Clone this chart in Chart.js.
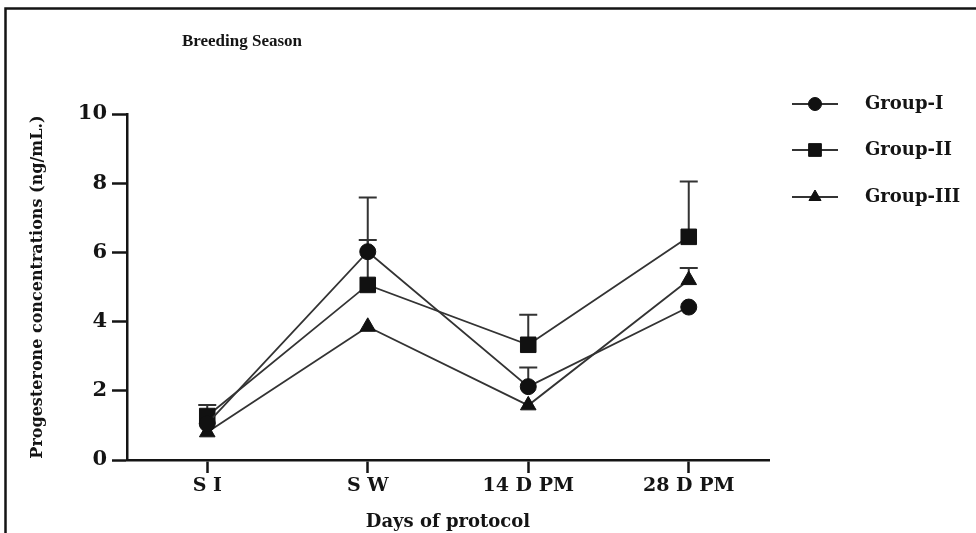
<!DOCTYPE html>
<html>
<head>
<meta charset="utf-8">
<script src="https://cdn.jsdelivr.net/npm/chart.js@4.4.1/dist/chart.umd.min.js"></script>
<style>
  html, body { margin: 0; padding: 0; background: #fff; }
  canvas { display: block; }
</style>
</head>
<body>
<canvas id="progChart" width="976" height="533"></canvas>
<script>
/* ── PROGESTERONE CHART ── */

// data
const days = ["S I", "S W", "14 D PM", "28 D PM"];
const groupI = [1.05, 6.02, 2.12, 4.42];
const groupII = [1.27, 5.06, 3.33, 6.45];
const groupIII = [0.8, 3.85, 1.58, 5.2];
// upper error bars (0 = none drawn)
const errI = [0, 1.57, 0.55, 0];
const errII = [0.32, 1.3, 0.87, 1.6];
const errIII = [0, 0, 0, 0.35];
const yTicks = [0, 2, 4, 6, 8, 10];

const INK = "#141414";
const LINE = "#333333";

// frame + title
const framePlugin = {
    id: "frame",
    beforeDraw(chart) {
        const ctx = chart.ctx;
        ctx.save();
        ctx.fillStyle = "#fff";
        ctx.fillRect(0, 0, chart.width, chart.height);
        ctx.strokeStyle = INK;
        ctx.lineWidth = 2.5;
        ctx.beginPath();
        ctx.moveTo(5.5, chart.height);
        ctx.lineTo(5.5, 8.5);
        ctx.lineTo(chart.width, 8.5);
        ctx.stroke();
        ctx.fillStyle = INK;
        ctx.font = "bold 17px 'Liberation Serif'";
        ctx.textAlign = "center";
        ctx.textBaseline = "middle";
        ctx.fillText("Breeding Season", 242, 42);
        ctx.restore();
    },
};

// upward error bars
const errorPlugin = {
    id: "errorBars",
    beforeDatasetsDraw(chart) {
        const ctx = chart.ctx;
        const x = chart.scales.x;
        const y = chart.scales.y;
        const sets = [[groupI, errI], [groupII, errII], [groupIII, errIII]];
        ctx.save();
        ctx.strokeStyle = LINE;
        ctx.lineWidth = 2;
        sets.forEach(([vals, errs]) => {
            vals.forEach((v, i) => {
                if (!errs[i]) return;
                const px = x.getPixelForValue(i);
                const y0 = y.getPixelForValue(v);
                const y1 = y.getPixelForValue(v + errs[i]);
                ctx.beginPath();
                ctx.moveTo(px, y0);
                ctx.lineTo(px, y1);
                ctx.moveTo(px - 9, y1);
                ctx.lineTo(px + 9, y1);
                ctx.stroke();
            });
        });
        ctx.restore();
    },
};

// legend at right: line with marker
const legendPlugin = {
    id: "sideLegend",
    afterDraw(chart) {
        const ctx = chart.ctx;
        const rows = [
            ["Group-I", "circle", 6.5, 104],
            ["Group-II", "rect", 9, 150],
            ["Group-III", "triangle", 7, 197],
        ];
        ctx.save();
        rows.forEach(([label, style, r, yy]) => {
            ctx.strokeStyle = LINE;
            ctx.lineWidth = 1.8;
            ctx.beginPath();
            ctx.moveTo(792, yy);
            ctx.lineTo(838, yy);
            ctx.stroke();
            ctx.fillStyle = "#111";
            ctx.strokeStyle = "#111";
            ctx.lineWidth = 1;
            Chart.helpers.drawPoint(ctx, { pointStyle: style, radius: r, borderWidth: 1 }, 815, yy);
            ctx.fillStyle = INK;
            ctx.font = "bold 18px 'DejaVu Serif'";
            ctx.textAlign = "left";
            ctx.textBaseline = "middle";
            ctx.fillText(label, 865, yy);
        });
        ctx.restore();
    },
};

function series(label, data, style, radius) {
    return {
        label: label,
        data: data,
        borderColor: LINE,
        borderWidth: 1.8,
        pointStyle: style,
        pointRadius: radius,
        pointHoverRadius: radius,
        pointBackgroundColor: "#111",
        pointBorderColor: "#111",
        pointBorderWidth: 1,
        fill: false,
        tension: 0,
    };
}

const progChart = new Chart(document.getElementById("progChart"), {
    type: "line",
    data: {
        labels: days,
        datasets: [
            series("Group-I", groupI, "circle", 8),
            series("Group-II", groupII, "rect", 11),
            series("Group-III", groupIII, "triangle", 9),
        ],
    },
    options: {
        responsive: false,
        animation: false,
        layout: { padding: { left: 20, top: 114, right: 207, bottom: 0 } },
        plugins: {
            legend: { display: false },
            tooltip: { enabled: false },
        },
        scales: {
            x: {
                offset: true,
                grid: {
                    drawOnChartArea: false,
                    drawTicks: true,
                    tickLength: 13,
                    tickWidth: 2.5,
                    tickColor: INK,
                    offset: false,
                },
                border: { display: true, color: INK, width: 2.5 },
                ticks: {
                    color: INK,
                    font: { family: "DejaVu Serif", weight: "bold", size: 19 },
                    padding: 2,
                    maxRotation: 0,
                    autoSkip: false,
                },
                title: {
                    display: true,
                    text: "Days of protocol",
                    color: INK,
                    font: { family: "DejaVu Serif", weight: "bold", size: 18 },
                    padding: { top: 2, bottom: 0 },
                },
                afterFit: (s) => { s.height = 73; },
            },
            y: {
                min: 0,
                max: 10,
                afterBuildTicks: (s) => { s.ticks = yTicks.map((v) => ({ value: v })); },
                grid: {
                    drawOnChartArea: false,
                    drawTicks: true,
                    tickLength: 15,
                    tickWidth: 2.5,
                    tickColor: INK,
                },
                border: { display: true, color: INK, width: 2.5 },
                ticks: {
                    color: INK,
                    font: { family: "DejaVu Serif", weight: "bold", size: 21 },
                    padding: 5,
                },
                title: {
                    display: true,
                    text: "Progesterone concentrations (ng/mL.)",
                    color: INK,
                    font: { family: "DejaVu Serif", weight: "bold", size: 16 },
                    padding: { top: 8, bottom: 0 },
                },
                afterFit: (s) => { s.width = 107; },
            },
        },
    },
    plugins: [framePlugin, errorPlugin, legendPlugin],
});
</script>
</body>
</html>
